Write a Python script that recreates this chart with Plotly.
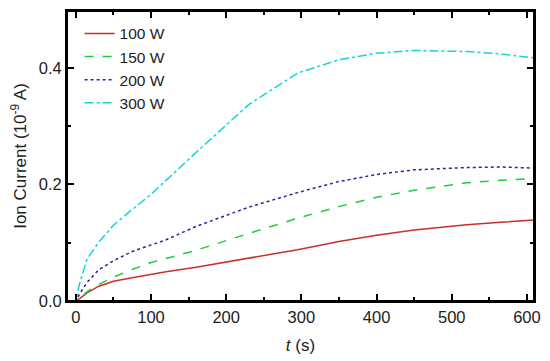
import plotly.graph_objects as go

# time axis (s)
t = [-10, 0, 5, 15, 30, 50, 75, 100, 120, 160, 230, 295, 350, 400, 450, 520, 565, 610]

# ion current (1e-9 A)
p100 = [0, 0, 0.004, 0.014, 0.025, 0.034, 0.040, 0.046, 0.050, 0.058, 0.074, 0.088, 0.102, 0.113, 0.122, 0.131, 0.135, 0.139]
p150 = [0, 0, 0.004, 0.016, 0.028, 0.041, 0.054, 0.066, 0.073, 0.087, 0.116, 0.142, 0.162, 0.178, 0.190, 0.203, 0.207, 0.210]
p200 = [0, 0, 0.012, 0.032, 0.053, 0.069, 0.085, 0.096, 0.105, 0.128, 0.161, 0.186, 0.205, 0.217, 0.225, 0.229, 0.230, 0.228]
p300 = [0, 0, 0.030, 0.072, 0.100, 0.130, 0.157, 0.183, 0.207, 0.255, 0.337, 0.391, 0.414, 0.425, 0.430, 0.428, 0.424, 0.417]

# axis ticks
x_major = [0, 100, 200, 300, 400, 500, 600]
y_major = [0.0, 0.2, 0.4]
y_labels = ["0.0", "0.2", "0.4"]

series = [
    ("100 W", p100, "#c8302c", "solid"),
    ("150 W", p150, "#1fcc3a", "dash"),
    ("200 W", p200, "#25259c", "dot"),
    ("300 W", p300, "#12d6dc", "dashdot"),
]

fig = go.Figure()
for name, y, c, d in series:
    fig.add_trace(go.Scatter(x=t, y=y, mode="lines", name=name,
                             line=dict(color=c, dash=d, width=1.5)))

font = "Liberation Sans, Arial, sans-serif"
axis_common = dict(showline=True, linecolor="black", linewidth=2, mirror="allticks",
                   ticks="inside", ticklen=7, tickwidth=2, tickcolor="black",
                   showgrid=False, zeroline=False,
                   tickfont=dict(family=font, size=16.5, color="#222"))

fig.update_xaxes(range=[-11.7, 609.4], tickvals=x_major,
                 minor=dict(ticks="inside", ticklen=4, tickwidth=2, tickcolor="black", dtick=50, tick0=0),
                 title=dict(text="<i>t</i> (s)", font=dict(family=font, size=17, color="#222"), standoff=14),
                 **axis_common)
fig.update_yaxes(range=[0, 0.4976], tickvals=y_major, ticktext=y_labels,
                 minor=dict(ticks="inside", ticklen=4, tickwidth=2, tickcolor="black", dtick=0.1, tick0=0),
                 title=dict(text="Ion Current (10<sup>-9</sup> A)", font=dict(family=font, size=17, color="#222"), standoff=8),
                 **axis_common)

fig.update_layout(
    width=550, height=361,
    margin=dict(l=67, r=10, t=9, b=57),
    plot_bgcolor="white", paper_bgcolor="white",
    showlegend=True,
    legend=dict(x=0.027, y=0.98, xanchor="left", yanchor="top",
                bgcolor="rgba(0,0,0,0)", font=dict(family=font, size=15.5, color="#222"),
                tracegroupgap=0, itemwidth=30),
    modebar=dict(bgcolor="rgba(0,0,0,0)", color="rgba(0,0,0,0)", activecolor="rgba(0,0,0,0)"),
    shapes=[dict(type="rect", xref="paper", yref="paper", x0=0, x1=1, y0=0, y1=1,
                 line=dict(color="black", width=2), layer="above")],
)

post = (
    "document.body.style.margin='0';"
    "var s=document.createElement('style');"
    "s.textContent='.modebar-btn--logo{opacity:0 !important;}';"
    "document.head.appendChild(s);"
)
fig.write_html("out.html", post_script=post)
